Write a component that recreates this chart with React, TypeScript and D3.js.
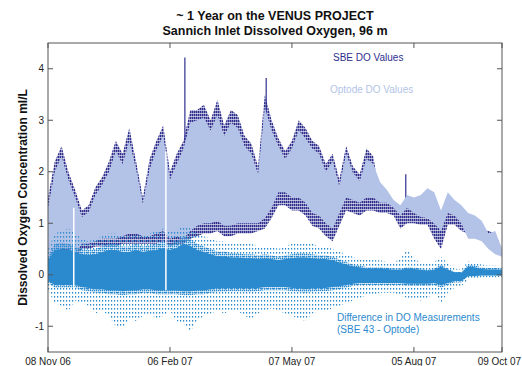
import * as d3 from 'd3'

// sample dates (5-day steps) and envelopes
const sampleDates = [
  '2006-11-08', '2006-11-13', '2006-11-18', '2006-11-23', '2006-11-28', '2006-12-03', '2006-12-08',
  '2006-12-13', '2006-12-18', '2006-12-23', '2006-12-28', '2007-01-02', '2007-01-07', '2007-01-12',
  '2007-01-17', '2007-01-22', '2007-01-27', '2007-02-01', '2007-02-06', '2007-02-11', '2007-02-16',
  '2007-02-21', '2007-02-26', '2007-03-03', '2007-03-08', '2007-03-13', '2007-03-18', '2007-03-23',
  '2007-03-28', '2007-04-02', '2007-04-07', '2007-04-12', '2007-04-17', '2007-04-22', '2007-04-27',
  '2007-05-02', '2007-05-07', '2007-05-12', '2007-05-17', '2007-05-22', '2007-05-27', '2007-06-01',
  '2007-06-06', '2007-06-11', '2007-06-16', '2007-06-21', '2007-06-26', '2007-07-01', '2007-07-06',
  '2007-07-11', '2007-07-16', '2007-07-21', '2007-07-26', '2007-07-31', '2007-08-05', '2007-08-10',
  '2007-08-15', '2007-08-20', '2007-08-25', '2007-08-30', '2007-09-04', '2007-09-09', '2007-09-14',
  '2007-09-19', '2007-09-24', '2007-09-29', '2007-10-04', '2007-10-09',
]

const sbeHigh = [
  1.5, 2.2, 2.5, 2.0, 1.65, 1.25, 1.35, 1.7, 1.9, 2.2, 2.6, 2.35, 2.85, 2.2, 1.5, 2.25, 2.6, 2.9, 2.0,
  2.35, 2.6, 3.2, 3.2, 3.3, 3.0, 3.4, 2.9, 3.2, 3.1, 2.7, 2.55, 2.1, 3.5, 3.0, 2.65, 2.4, 2.6, 3.0, 2.85,
  2.6, 2.5, 2.15, 2.35, 1.85, 2.5, 2.1, 1.95, 2.45, 2.3,
  1.5, 1.45, 1.35, 1.2, 1.45, 1.25, 1.15, 1.1, 1.0, 0.9, 1.3, 1.2, 1.0, 0.95, 0.95, 0.9, 0.85, 0.8, 0.5,
]
const sbeLow = [
  0.2, 0.35, 0.4, 0.4, 0.3, 0.5, 0.5, 0.55, 0.55, 0.55, 0.55, 0.6, 0.6, 0.6, 0.6, 0.6, 0.6, 0.65, 0.55,
  0.6, 0.6, 0.7, 0.75, 0.8, 0.8, 0.85, 0.75, 0.75, 0.8, 0.8, 0.8, 0.85, 0.9, 1.1, 1.35, 1.35, 1.25, 1.25,
  1.15, 0.95, 0.9, 0.75, 0.65, 0.95, 1.25, 1.2, 1.15, 1.25, 1.25,
  1.2, 1.2, 1.15, 0.9, 1.0, 1.0, 0.97, 0.97, 0.7, 0.5, 0.97, 0.97, 0.85, 0.8, 0.75, 0.72, 0.7, 0.6, 0.45,
]
const optodeHigh = [
  1.3, 2.0, 2.3, 1.85, 1.5, 1.12, 1.22, 1.55, 1.75, 2.0, 2.4, 2.15, 2.6, 2.05, 1.38, 2.05, 2.42, 2.7, 1.85,
  2.15, 2.45, 2.95, 3.0, 3.05, 2.8, 3.1, 2.7, 2.95, 2.85, 2.5, 2.35, 1.95, 3.25, 2.8, 2.5, 2.25, 2.45, 2.8,
  2.65, 2.45, 2.35, 2.0, 2.2, 1.72, 2.35, 1.98, 1.82, 2.25, 2.15,
  1.8, 1.65, 1.45, 1.35, 1.55, 1.5, 1.55, 1.68, 1.6, 1.25, 1.6, 1.45, 1.35, 1.2, 1.15, 1.05, 0.8, 0.85, 0.5,
]
const optodeLow = [
  0.3, 0.45, 0.5, 0.5, 0.4, 0.6, 0.6, 0.65, 0.7, 0.7, 0.7, 0.75, 0.8, 0.8, 0.75, 0.75, 0.8, 0.85, 0.7,
  0.75, 0.7, 0.85, 0.95, 1.0, 1.0, 1.05, 0.95, 0.95, 1.0, 1.0, 1.0, 1.0, 1.1, 1.3, 1.6, 1.6, 1.5, 1.5, 1.4,
  1.2, 1.15, 1.0, 0.9, 1.2, 1.5, 1.45, 1.4, 1.5, 1.5,
  1.4, 1.4, 1.3, 1.15, 1.3, 1.2, 1.12, 1.1, 1.0, 0.85, 1.2, 1.15, 1.0, 0.7, 0.7, 0.65, 0.5, 0.4, 0.35,
]

// difference (SBE 43 - Optode): dense core and scattered outer range
const diffCoreLow = [
  -0.15, -0.25, -0.25, -0.25, -0.25, -0.3, -0.32, -0.35, -0.35, -0.38, -0.38, -0.4, -0.38, -0.38, -0.35,
  -0.35, -0.38, -0.38, -0.38, -0.38, -0.4, -0.4, -0.38, -0.38, -0.35, -0.33, -0.33, -0.32, -0.32, -0.33,
  -0.33, -0.32, -0.3, -0.3, -0.3, -0.3, -0.32, -0.33, -0.35, -0.33, -0.32, -0.32, -0.3, -0.28, -0.25,
  -0.22, -0.2, -0.2, -0.2, -0.2, -0.2, -0.2, -0.2, -0.22, -0.22, -0.22, -0.22, -0.2, -0.25, -0.2, -0.15,
  -0.15, -0.03, -0.03, -0.02, -0.02, -0.02, -0.02,
]
const diffCoreHigh = [
  0.35, 0.6, 0.62, 0.6, 0.55, 0.5, 0.48, 0.5, 0.55, 0.6, 0.6, 0.55, 0.55, 0.6, 0.55, 0.58, 0.6, 0.65,
  0.6, 0.65, 0.75, 0.7, 0.6, 0.55, 0.5, 0.45, 0.45, 0.42, 0.42, 0.4, 0.4, 0.38, 0.4, 0.38, 0.35, 0.38,
  0.4, 0.42, 0.42, 0.4, 0.38, 0.38, 0.35, 0.3, 0.25, 0.2, 0.18, 0.15, 0.15, 0.15, 0.14, 0.12, 0.12,
  0.15, 0.14, 0.12, 0.1, 0.12, 0.2, 0.12, 0.06, 0.05, 0.2, 0.18, 0.14, 0.13, 0.13, 0.12,
]
const diffMin = [
  -0.3, -0.55, -0.6, -0.7, -0.5, -0.55, -0.6, -0.75, -0.7, -0.8, -1.0, -1.05, -0.85, -0.9, -0.8, -0.75,
  -0.85, -0.8, -0.7, -0.9, -0.95, -1.1, -0.9, -0.8, -0.75, -0.7, -0.75, -0.7, -0.7, -0.8, -0.85, -0.75,
  -0.7, -0.65, -0.7, -0.75, -0.8, -0.85, -0.9, -0.75, -0.7, -0.7, -0.65, -0.6, -0.55, -0.5, -0.45, -0.4,
  -0.4, -0.35, -0.35, -0.35, -0.4, -0.45, -0.45, -0.5, -0.45, -0.35, -0.55, -0.35, -0.25, -0.22, -0.1,
  -0.08, -0.05, -0.05, -0.05, -0.04,
]
const diffMax = [
  0.5, 0.8, 0.85, 0.9, 0.8, 0.7, 0.65, 0.7, 0.75, 0.8, 0.8, 0.75, 0.75, 0.8, 0.75, 0.8, 0.85, 0.9, 0.85,
  0.85, 0.95, 0.9, 0.8, 0.75, 0.7, 0.65, 0.65, 0.6, 0.6, 0.6, 0.6, 0.55, 0.55, 0.55, 0.5, 0.55, 0.6, 0.6,
  0.6, 0.6, 0.55, 0.55, 0.5, 0.45, 0.4, 0.35, 0.3, 0.3, 0.28, 0.28, 0.25, 0.25, 0.3, 0.5, 0.3, 0.25,
  0.22, 0.25, 0.35, 0.22, 0.12, 0.1, 0.26, 0.22, 0.2, 0.18, 0.18, 0.15,
]

// isolated SBE spikes
const spikeDates = ['2007-02-17', '2007-04-18', '2007-07-30']
const spikeLow = [2.6, 3.0, 1.3]
const spikeHigh = [4.22, 3.82, 1.95]

// short recording gaps
const gapDates = ['2006-11-27', '2007-02-03']
const gapLow = [-0.3, -0.3]
const gapHigh = [1.3, 2.4]

const xTickDates = ['2006-11-08', '2007-02-06', '2007-05-07', '2007-08-05', '2007-10-09']
const xTickLabels = ['08 Nov 06', '06 Feb 07', '07 May 07', '05 Aug 07', '09 Oct 07']
const yTicks = [-1, 0, 1, 2, 3, 4]

const SBE = '#2e2f8e'
const OPTODE = '#b3c3e7'
const DIFF = '#2b8ace'
const FONT = 'Liberation Sans, Arial, sans-serif'

export default function App() {
  const W = 522
  const H = 366
  const m = { left: 48, right: 20, top: 43, bottom: 14 }
  const parse = d3.timeParse('%Y-%m-%d')
  const dates = sampleDates.map((d) => parse(d) as Date)

  const x = d3.scaleTime()
    .domain([parse('2006-11-08') as Date, parse('2007-10-09') as Date])
    .range([m.left, W - m.right])
  const y = d3.scaleLinear().domain([-1.5, 4.5]).range([H - m.bottom, m.top])

  const band = (lo: number[], hi: number[]) =>
    d3.area<number>()
      .x((i) => x(dates[i]))
      .y0((i) => y(lo[i]))
      .y1((i) => y(hi[i]))(d3.range(dates.length)) as string

  const [x0, x1] = x.range()
  const [y0, y1] = y.range()

  return (
    <svg width={W} height={H} style={{ position: 'absolute', left: 0, top: 0, background: '#fff' }}>
      <defs>
        <clipPath id="plot">
          <rect x={x0} y={y1} width={x1 - x0} height={y0 - y1} />
        </clipPath>
        {/* dotted fills standing in for the dense scatter of samples */}
        <pattern id="sbeDots" width={2} height={3} patternUnits="userSpaceOnUse">
          <rect width={1.6} height={2.4} fill={SBE} />
        </pattern>
        <pattern id="diffDots" width={3} height={4} patternUnits="userSpaceOnUse">
          <rect width={1.2} height={1.6} fill={DIFF} />
        </pattern>
        <pattern id="diffDense" width={2} height={2} patternUnits="userSpaceOnUse">
          <rect width={1.4} height={1.4} fill={DIFF} />
        </pattern>
      </defs>

      <g clipPath="url(#plot)">
        <path d={band(sbeLow, sbeHigh)} fill="url(#sbeDots)" />
        {spikeDates.map((d, i) => (
          <line key={d} x1={x(parse(d) as Date)} x2={x(parse(d) as Date)}
            y1={y(spikeLow[i])} y2={y(spikeHigh[i])} stroke={SBE} strokeWidth={1.2} />
        ))}
        <path d={band(optodeLow, optodeHigh)} fill={OPTODE} />
        <path d={band(diffMin, diffMax)} fill="url(#diffDots)" />
        <path d={band(diffCoreLow, diffCoreHigh)} fill="url(#diffDense)" />
        <path d={band(diffCoreLow.map((v) => v * 0.8), diffCoreHigh.map((v) => v * 0.8))} fill={DIFF} />
        {gapDates.map((d, i) => (
          <line key={d} x1={x(parse(d) as Date)} x2={x(parse(d) as Date)}
            y1={y(gapLow[i])} y2={y(gapHigh[i])} stroke="#fff" strokeWidth={1.5} />
        ))}
      </g>

      {/* frame and ticks (inward, mirrored) */}
      <rect x={x0} y={y1} width={x1 - x0} height={y0 - y1} fill="none" stroke="#555" strokeWidth={1} />
      {xTickDates.map((d, i) => {
        const tx = x(parse(d) as Date)
        const last = i === xTickDates.length - 1
        return (
          <g key={d}>
            <line x1={tx} x2={tx} y1={y0} y2={y0 - 5} stroke="#555" />
            <line x1={tx} x2={tx} y1={y1} y2={y1 + 5} stroke="#555" />
            <text x={last ? W - 1 : tx} y={H - 1.5} textAnchor={last ? 'end' : 'middle'}
              fontFamily={FONT} fontSize={10} fill="#222">
              {xTickLabels[i]}
            </text>
          </g>
        )
      })}
      {yTicks.map((v) => (
        <g key={v}>
          <line x1={x0} x2={x0 + 5} y1={y(v)} y2={y(v)} stroke="#555" />
          <line x1={x1} x2={x1 - 5} y1={y(v)} y2={y(v)} stroke="#555" />
          <text x={x0 - 4} y={y(v) + 3.5} textAnchor="end" fontFamily={FONT} fontSize={10} fill="#222">
            {v}
          </text>
        </g>
      ))}

      {/* titles */}
      <text x={(x0 + x1) / 2} y={19.5} textAnchor="middle" fontFamily={FONT} fontSize={12.5}
        fontWeight="bold" fill="#111">~ 1 Year on the VENUS PROJECT</text>
      <text x={(x0 + x1) / 2} y={34.5} textAnchor="middle" fontFamily={FONT} fontSize={12.5}
        fontWeight="bold" fill="#111">Sannich Inlet Dissolved Oxygen, 96 m</text>
      <text transform={`translate(27,${(y0 + y1) / 2}) rotate(-90)`} textAnchor="middle"
        fontFamily={FONT} fontSize={12} fontWeight="bold" fill="#111">
        Dissolved Oxygen Concentration ml/L
      </text>

      {/* series labels */}
      <text x={333} y={61} fontFamily={FONT} fontSize={10} fill={SBE}>SBE DO Values</text>
      <text x={330} y={93} fontFamily={FONT} fontSize={10} fill={OPTODE}>Optode DO Values</text>
      <text x={337} y={321} fontFamily={FONT} fontSize={10} fill={DIFF}>Difference in DO Measurements</text>
      <text x={337} y={333} fontFamily={FONT} fontSize={10} fill={DIFF}>(SBE 43 - Optode)</text>
    </svg>
  )
}
